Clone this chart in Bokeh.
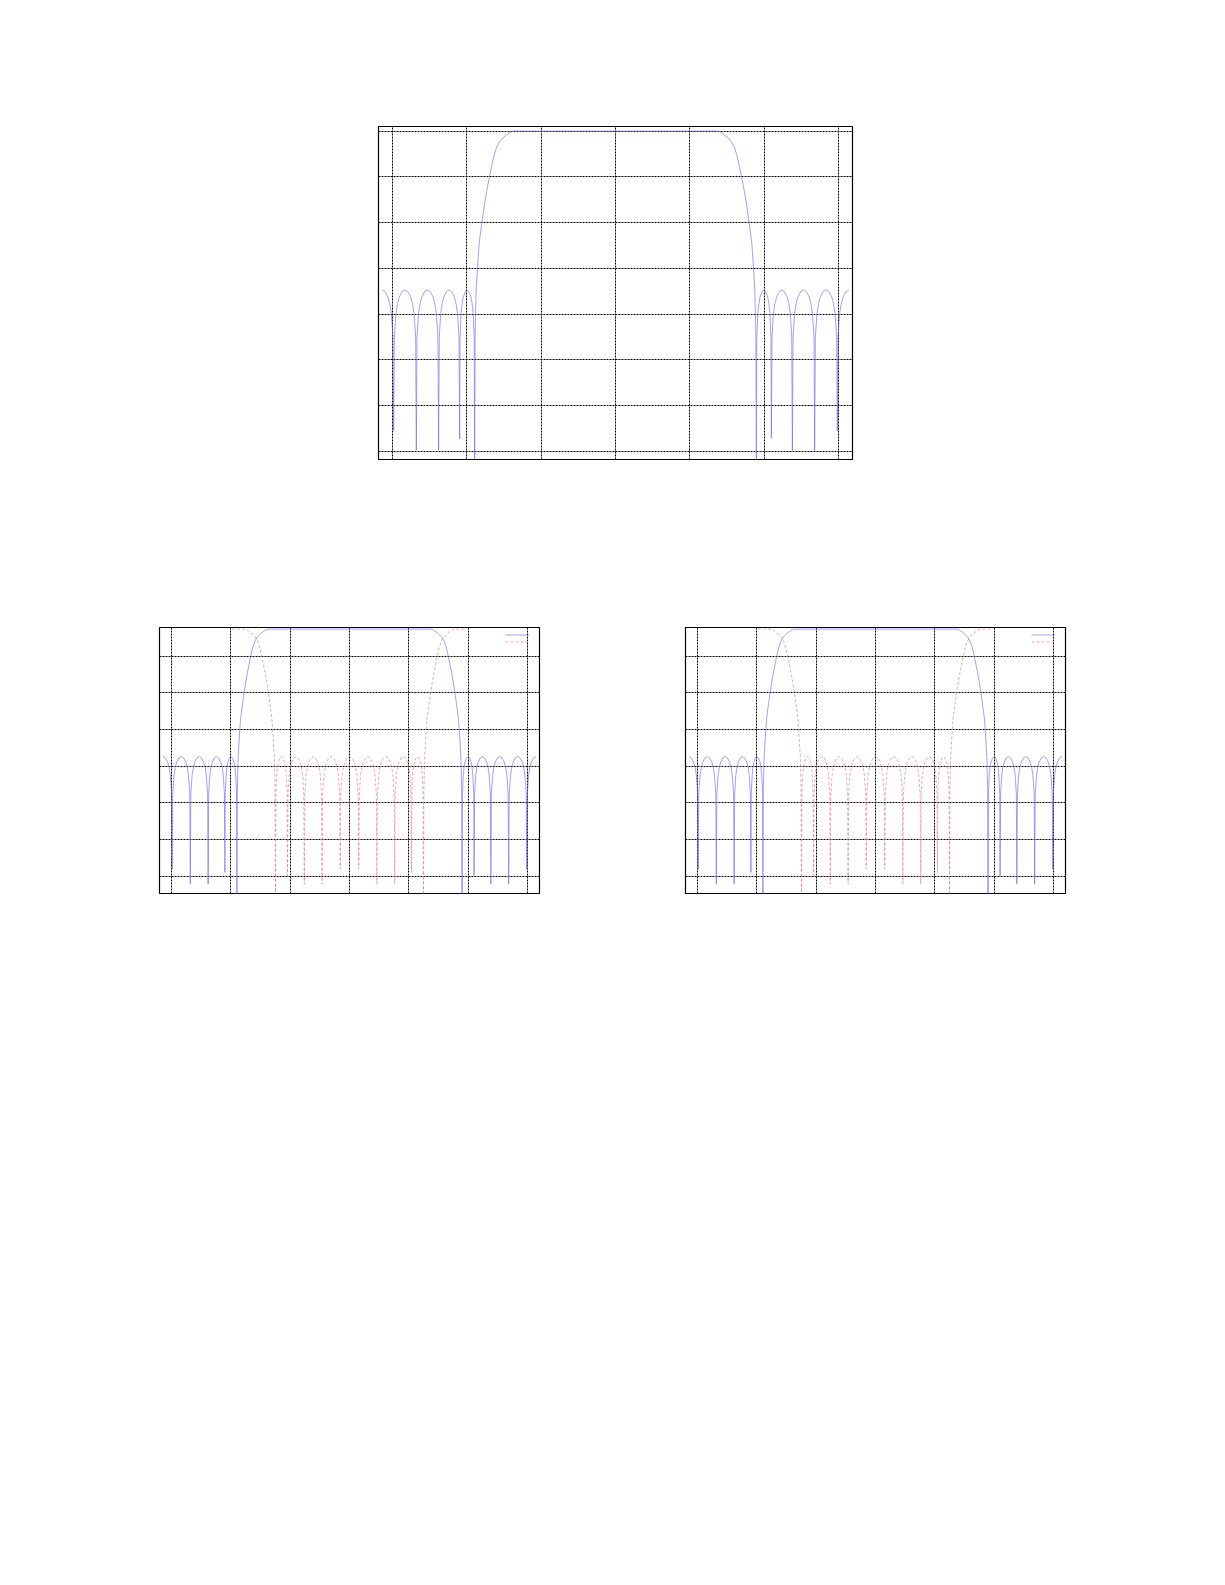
from bokeh.plotting import figure
from bokeh.models import Range1d, FixedTicker, Grid, Legend, LegendItem, Spacer
from bokeh.layouts import column, row
from bokeh.embed import file_html
from bokeh.resources import INLINE

# ---------------- data ----------------
x_ticks = [-3, -2, -1, 0, 1, 2, 3]
top_y_ticks = [0, -20, -40, -60, -80, -100, -120, -140]
bot_y_ticks = [0, -20, -40, -60, -80, -100, -120]

# normalised frequency (rad) of the read points of the low-pass response
freq = [
    -3.1416, -3.103, -3.064, -3.039, -3.017, -2.995, -2.986,
    -2.977, -2.955, -2.934, -2.910, -2.872, -2.834, -2.795, -2.757, -2.733, -2.712, -2.690, -2.681,
    -2.672, -2.651, -2.630, -2.606, -2.569, -2.531, -2.494, -2.456, -2.432, -2.411, -2.390, -2.381,
    -2.372, -2.353, -2.333, -2.310, -2.275, -2.240, -2.204, -2.169, -2.146, -2.126, -2.107, -2.098,
    -2.092, -2.078, -2.064, -2.048, -2.022, -1.997, -1.972, -1.946, -1.930, -1.916, -1.902, -1.896,
    -1.889, -1.876, -1.858, -1.834, -1.798, -1.770, -1.745, -1.720, -1.697, -1.670, -1.636, -1.600,
    -1.551, -1.500, -1.461, -1.430, -1.400, -1.372,
    0.000,
    1.372, 1.400, 1.430, 1.461, 1.500, 1.551,
    1.600, 1.636, 1.670, 1.697, 1.720, 1.745, 1.770, 1.798, 1.834, 1.858, 1.876, 1.889,
    1.896, 1.902, 1.916, 1.930, 1.946, 1.972, 1.997, 2.022, 2.048, 2.064, 2.078, 2.092,
    2.098, 2.107, 2.126, 2.146, 2.169, 2.204, 2.240, 2.275, 2.310, 2.333, 2.353, 2.372,
    2.381, 2.390, 2.411, 2.432, 2.456, 2.494, 2.531, 2.569, 2.606, 2.630, 2.651, 2.672,
    2.681, 2.690, 2.712, 2.733, 2.757, 2.795, 2.834, 2.872, 2.910, 2.934, 2.955, 2.977,
    2.986, 2.995, 3.017, 3.039, 3.064, 3.103, 3.1416]

# top chart, magnitude in dB
top_db = [
    -69.5, -70.2, -72.5, -75.4, -79.7, -90.0, -131.0,
    -90.0, -79.7, -75.4, -72.5, -70.2, -69.5, -70.2, -72.5, -75.4, -79.7, -90.0, -139.5,
    -90.0, -79.7, -75.4, -72.5, -70.2, -69.5, -70.2, -72.5, -75.4, -79.7, -90.0, -139.5,
    -90.0, -79.7, -75.4, -72.5, -70.2, -69.5, -70.2, -72.5, -75.4, -79.7, -90.0, -134.6,
    -90.0, -79.7, -75.4, -72.5, -70.2, -69.5, -70.2, -72.5, -75.4, -79.7, -90.0, -150.0,
    -88.0, -70.0, -59.9, -48.7, -39.9, -33.5, -28.3, -23.8, -20.1, -15.8, -10.8, -7.0,
    -4.2, -2.6, -1.6, -0.8, -0.25, 0.0,
    0.0,
    0.0, -0.25, -0.8, -1.6, -2.6, -4.2,
    -7.0, -10.8, -15.8, -20.1, -23.8, -28.3, -33.5, -39.9, -48.7, -59.9, -70.0, -88.0,
    -150.0, -90.0, -79.7, -75.4, -72.5, -70.2, -69.5, -70.2, -72.5, -75.4, -79.7, -90.0,
    -134.3, -90.0, -79.7, -75.4, -72.5, -70.2, -69.5, -70.2, -72.5, -75.4, -79.7, -90.0,
    -139.7, -90.0, -79.7, -75.4, -72.5, -70.2, -69.5, -70.2, -72.5, -75.4, -79.7, -90.0,
    -139.7, -90.0, -79.7, -75.4, -72.5, -70.2, -69.5, -70.2, -72.5, -75.4, -79.7, -90.0,
    -131.0, -90.0, -79.7, -75.4, -72.5, -70.2, -69.5]

# lower charts: blue (solid) channel, dB
blue_db = [
    -54.8, -55.5, -57.8, -60.7, -65.0, -75.3, -116.2,
    -75.3, -65.0, -60.7, -57.8, -55.5, -54.8, -55.5, -57.8, -60.7, -65.0, -75.3, -124.4,
    -75.3, -65.0, -60.7, -57.8, -55.5, -54.8, -55.5, -57.8, -60.7, -65.0, -75.3, -124.4,
    -75.3, -65.0, -60.7, -57.8, -55.5, -54.8, -55.5, -57.8, -60.7, -65.0, -75.3, -118.0,
    -75.3, -65.0, -60.7, -57.8, -55.5, -54.8, -55.5, -57.8, -60.7, -65.0, -75.3, -140.0,
    -73.3, -55.3, -45.2, -34.0, -25.2, -18.8, -13.6, -9.1, -5.4, -1.1, 3.9, 7.7,
    10.5, 12.1, 13.1, 13.9, 14.45, 14.7,
    14.7,
    14.7, 14.45, 13.9, 13.1, 12.1, 10.5,
    7.7, 3.9, -1.1, -5.4, -9.1, -13.6, -18.8, -25.2, -34.0, -45.2, -55.3, -73.3,
    -140.0, -75.3, -65.0, -60.7, -57.8, -55.5, -54.8, -55.5, -57.8, -60.7, -65.0, -75.3,
    -119.8, -75.3, -65.0, -60.7, -57.8, -55.5, -54.8, -55.5, -57.8, -60.7, -65.0, -75.3,
    -124.4, -75.3, -65.0, -60.7, -57.8, -55.5, -54.8, -55.5, -57.8, -60.7, -65.0, -75.3,
    -124.4, -75.3, -65.0, -60.7, -57.8, -55.5, -54.8, -55.5, -57.8, -60.7, -65.0, -75.3,
    -116.2, -75.3, -65.0, -60.7, -57.8, -55.5, -54.8]

# lower charts: red (dashed) channel
red_freq = [
    -1.980, -1.770, -1.742, -1.712, -1.681, -1.642, -1.591, -1.542, -1.506, -1.472,
    -1.445, -1.422, -1.397, -1.372, -1.344, -1.308, -1.284, -1.266, -1.253,
    -1.246, -1.240, -1.226, -1.212, -1.196, -1.170, -1.145, -1.120, -1.094, -1.078, -1.064, -1.050,
    -1.044, -1.035, -1.016, -0.996, -0.973, -0.938, -0.903, -0.867, -0.832, -0.809, -0.789, -0.770,
    -0.761, -0.752, -0.731, -0.710, -0.686, -0.649, -0.611, -0.574, -0.536, -0.512, -0.491, -0.470,
    -0.461, -0.452, -0.430, -0.409, -0.385, -0.347, -0.309, -0.270, -0.232, -0.208, -0.187, -0.165,
    -0.156, -0.147, -0.125, -0.103, -0.078, -0.039, 0.000, 0.039, 0.078, 0.103, 0.125, 0.147,
    0.156, 0.165, 0.187, 0.208, 0.232, 0.270, 0.309, 0.347, 0.385, 0.409, 0.430, 0.452,
    0.461, 0.470, 0.491, 0.512, 0.536, 0.574, 0.611, 0.649, 0.686, 0.710, 0.731, 0.752,
    0.761, 0.770, 0.789, 0.809, 0.832, 0.867, 0.903, 0.938, 0.973, 0.996, 1.016, 1.035,
    1.044, 1.050, 1.064, 1.078, 1.094, 1.120, 1.145, 1.170, 1.196, 1.212, 1.226, 1.240,
    1.246, 1.253, 1.266, 1.284, 1.308, 1.344, 1.372, 1.397, 1.422, 1.445,
    1.472, 1.506, 1.542, 1.591, 1.642, 1.681, 1.712, 1.742, 1.770, 1.980]
red_db = [
    14.7, 14.7, 14.45, 13.9, 13.1, 12.1, 10.5, 7.7, 3.9, -1.1,
    -5.4, -9.1, -13.6, -18.8, -25.2, -34.0, -45.2, -55.3, -73.3,
    -140.0, -75.3, -65.0, -60.7, -57.8, -55.5, -54.8, -55.5, -57.8, -60.7, -65.0, -75.3,
    -119.8, -75.3, -65.0, -60.7, -57.8, -55.5, -54.8, -55.5, -57.8, -60.7, -65.0, -75.3,
    -124.4, -75.3, -65.0, -60.7, -57.8, -55.5, -54.8, -55.5, -57.8, -60.7, -65.0, -75.3,
    -124.4, -75.3, -65.0, -60.7, -57.8, -55.5, -54.8, -55.5, -57.8, -60.7, -65.0, -75.3,
    -116.2, -75.3, -65.0, -60.7, -57.8, -55.5, -54.8, -55.5, -57.8, -60.7, -65.0, -75.3,
    -116.2, -75.3, -65.0, -60.7, -57.8, -55.5, -54.8, -55.5, -57.8, -60.7, -65.0, -75.3,
    -124.4, -75.3, -65.0, -60.7, -57.8, -55.5, -54.8, -55.5, -57.8, -60.7, -65.0, -75.3,
    -124.4, -75.3, -65.0, -60.7, -57.8, -55.5, -54.8, -55.5, -57.8, -60.7, -65.0, -75.3,
    -118.0, -75.3, -65.0, -60.7, -57.8, -55.5, -54.8, -55.5, -57.8, -60.7, -65.0, -75.3,
    -140.0, -73.3, -55.3, -45.2, -34.0, -25.2, -18.8, -13.6, -9.1, -5.4,
    -1.1, 3.9, 7.7, 10.5, 12.1, 13.1, 13.9, 14.45, 14.7, 14.7]

# ---------------- styling ----------------
BLUE = "#6464dc"
RED = "#e07070"
BORDER = 2


def make_fig(fw, fh, xr, yr, yticks):
    p = figure(frame_width=fw, frame_height=fh,
               x_range=Range1d(*xr), y_range=Range1d(*yr),
               x_axis_type=None, y_axis_type=None,
               toolbar_location=None, output_backend="svg",
               min_border=BORDER, background_fill_color="white",
               border_fill_color="white", outline_line_color="black",
               outline_line_width=1.2)
    p.title.visible = False
    for dim, ticks in ((0, x_ticks), (1, yticks)):
        p.add_layout(Grid(dimension=dim, ticker=FixedTicker(ticks=ticks),
                          grid_line_color="black", grid_line_dash="2 1",
                          grid_line_width=1))
    return p


def lower_fig():
    p = make_fig(380, 266, (-3.2, 3.2), (-129.5, 15.6), bot_y_ticks)
    rb = p.line(freq, blue_db, line_color=BLUE, line_width=0.6)
    rr = p.line(red_freq, red_db, line_color=RED, line_width=0.6, line_dash="3 2")
    leg = Legend(items=[LegendItem(label=" ", renderers=[rb]),
                        LegendItem(label=" ", renderers=[rr])],
                 location="top_right", margin=0, padding=4, spacing=0,
                 glyph_width=24, glyph_height=7, label_width=6, label_height=7,
                 label_standoff=0, label_text_font_size="1px",
                 border_line_alpha=0, background_fill_alpha=0)
    p.add_layout(leg)
    return p


p_top = make_fig(474, 333, (-3.19, 3.19), (-143.6, 2.0), top_y_ticks)
p_top.line(freq, top_db, line_color=BLUE, line_width=0.6)

p_bl = lower_fig()
p_br = lower_fig()

page = column(
    Spacer(width=10, height=124),
    row(Spacer(width=376, height=337), p_top),
    Spacer(width=10, height=164),
    row(Spacer(width=157, height=270), p_bl, Spacer(width=142, height=270), p_br),
)

open("out.html", "w").write(file_html(page, INLINE))
